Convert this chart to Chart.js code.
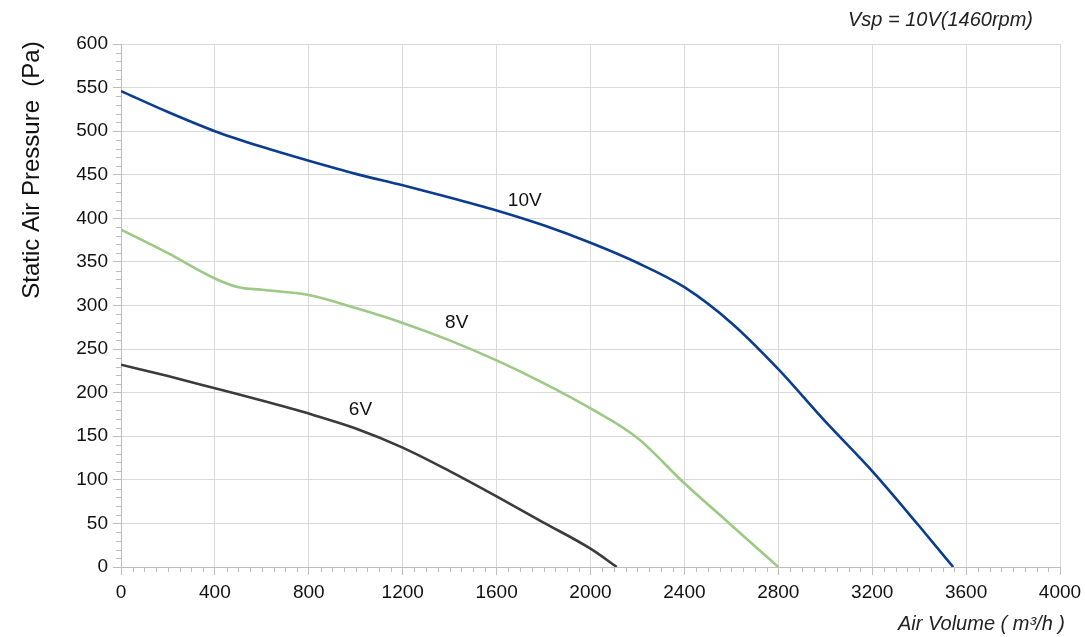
<!DOCTYPE html>
<html>
<head>
<meta charset="utf-8">
<script src="https://cdn.jsdelivr.net/npm/chart.js@4"></script>
<style>
  html, body { margin: 0; padding: 0; background: #fff; }
  #wrap { width: 1085px; height: 637px; }
</style>
</head>
<body>
<div id="wrap"><canvas id="grafico" width="1085" height="637"></canvas></div>
<script>
// caudal (m3/h) y presion (Pa)
const caudal10V = [0, 200, 400, 600, 800, 1000, 1200, 1400, 1600, 1800, 2000, 2200, 2400, 2600, 2800, 3000, 3200, 3400, 3545];
const presion10V = [546, 522, 500, 482, 466, 451, 438, 424, 409, 392, 372, 349, 321, 280, 227, 167, 110, 47, 0];
const caudal8V = [0, 200, 400, 500, 600, 800, 1000, 1200, 1400, 1600, 1800, 2000, 2200, 2400, 2600, 2800];
const presion8V = [387, 360, 331, 321, 318, 312, 297, 280, 260, 237, 211, 182, 148, 96, 48, 0];
const caudal6V = [0, 200, 400, 600, 800, 1000, 1200, 1400, 1600, 1800, 2000, 2112];
const presion6V = [232, 219, 205, 191, 176, 159, 137, 110, 81, 51, 21, 0];
const etiquetasCurva = [
  { texto: "10V", x: 1720, y: 420 },
  { texto: "8V", x: 1430, y: 280 },
  { texto: "6V", x: 1020, y: 180 }
];
const tituloY = "Static Air Pressure  (Pa)";
const tituloX = "Air Volume ( m\u00b3/h )";
const tituloVsp = "Vsp = 10V(1460rpm)";

const fuente = "'Liberation Sans', Arial, sans-serif";
const grapharea = document.getElementById("grafico");

const armaSerie = (xs, ys) => xs.map((x, i) => ({ x, y: ys[i] }));

const datasets = [
  { label: "10V", data: armaSerie(caudal10V, presion10V), borderColor: "#0b3d8f" },
  { label: "8V", data: armaSerie(caudal8V, presion8V), borderColor: "#9cc985" },
  { label: "6V", data: armaSerie(caudal6V, presion6V), borderColor: "#3b3b3b" }
].map(ds => ({ ...ds, borderWidth: 2.6, pointRadius: 0, fill: false, tension: 0.4, cubicInterpolationMode: "monotone" }));

const extras = {
  id: "extras",
  afterDraw(chart) {
    const ctx = chart.ctx;
    const sx = chart.scales.x;
    const sy = chart.scales.y;
    const area = chart.chartArea;
    ctx.save();
    // ticks menores
    ctx.strokeStyle = "#bdbdbd";
    ctx.lineWidth = 1;
    for (let v = 0; v <= 600; v += 10) {
      if (v % 50 === 0) continue;
      const py = Math.round(sy.getPixelForValue(v)) + 0.5;
      ctx.beginPath();
      ctx.moveTo(area.left - 5, py);
      ctx.lineTo(area.left, py);
      ctx.stroke();
    }
    for (let v = 0; v <= 4000; v += 50) {
      if (v % 400 === 0) continue;
      const px = Math.round(sx.getPixelForValue(v)) + 0.5;
      ctx.beginPath();
      ctx.moveTo(px, area.bottom);
      ctx.lineTo(px, area.bottom + 5);
      ctx.stroke();
    }
    // etiquetas de las curvas
    ctx.fillStyle = "#111";
    ctx.font = "19px " + fuente;
    ctx.textAlign = "center";
    ctx.textBaseline = "middle";
    for (const et of etiquetasCurva) {
      ctx.fillText(et.texto, sx.getPixelForValue(et.x), sy.getPixelForValue(et.y));
    }
    // titulos
    ctx.font = "italic 20px " + fuente;
    ctx.textAlign = "right";
    ctx.fillStyle = "#222";
    ctx.fillText(tituloVsp, 1033, 20);
    ctx.fillText(tituloX, 1065, 624);
    ctx.translate(32, 170);
    ctx.rotate(-Math.PI / 2);
    ctx.textAlign = "center";
    ctx.font = "24px " + fuente;
    ctx.fillStyle = "#111";
    ctx.fillText(tituloY, 0, 0);
    ctx.restore();
  }
};

const config = {
  type: "line",
  data: { datasets },
  options: {
    responsive: false,
    animation: false,
    layout: { padding: { top: 44, right: 25, left: 0, bottom: 0 } },
    plugins: { legend: { display: false }, tooltip: { enabled: false } },
    scales: {
      x: {
        type: "linear",
        min: 0,
        max: 4000,
        ticks: { stepSize: 400, color: "#111", font: { size: 19, family: fuente }, padding: 6, maxRotation: 0, callback: (v) => String(v) },
        grid: { color: "#d9d9d9", tickColor: "#bdbdbd", tickLength: 8, lineWidth: 1 },
        border: { color: "#bdbdbd" },
        afterFit: (scale) => { scale.height = 70; scale.paddingRight = 0; scale.paddingLeft = 0; }
      },
      y: {
        min: 0,
        max: 600,
        ticks: { stepSize: 50, color: "#111", font: { size: 19, family: fuente }, padding: 5 },
        grid: { color: "#d9d9d9", tickColor: "#bdbdbd", tickLength: 8, lineWidth: 1 },
        border: { color: "#bdbdbd" },
        afterFit: (scale) => { scale.width = 121; scale.paddingTop = 0; scale.paddingBottom = 0; }
      }
    }
  },
  plugins: [extras]
};

new Chart(grapharea, config);
</script>
</body>
</html>
